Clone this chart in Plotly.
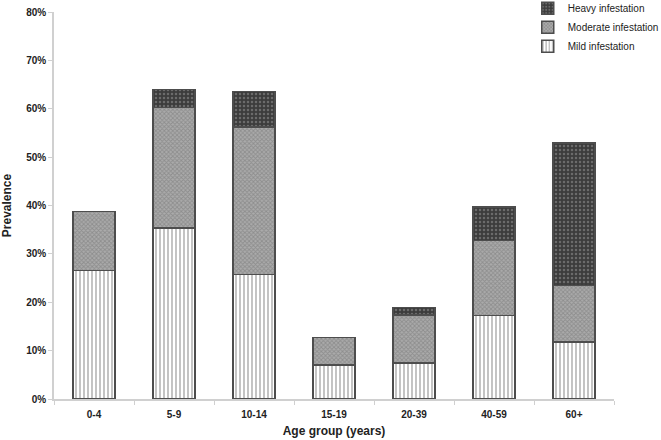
import plotly.graph_objects as go

categories = ["0-4", "5-9", "10-14", "15-19", "20-39", "40-59", "60+"]
mild = [26.6, 35.3, 25.7, 7.0, 7.4, 17.3, 11.8]
moderate_top = [38.8, 60.3, 56.2, 12.7, 17.4, 32.8, 23.5]
heavy_top = [38.8, 64.0, 63.6, 12.7, 18.9, 39.7, 52.9]

moderate = [round(t - m, 2) for t, m in zip(moderate_top, mild)]
heavy = [round(h - t, 2) for h, t in zip(heavy_top, moderate_top)]

outline = dict(color="#4d4d4d", width=1.5)

fig = go.Figure()
fig.add_trace(go.Bar(
    name="Mild infestation", x=categories, y=mild, width=0.53,
    marker=dict(color="white", line=outline,
                pattern=dict(shape="|", fgcolor="#555555", bgcolor="white", size=4, solidity=0.35)),
))
fig.add_trace(go.Bar(
    name="Moderate infestation", x=categories, y=moderate, width=0.53,
    marker=dict(color="#9a9a9a", line=outline,
                pattern=dict(shape="x", fgcolor="#707070", bgcolor="#ababab", size=3, solidity=0.5)),
))
fig.add_trace(go.Bar(
    name="Heavy infestation", x=categories, y=heavy, width=0.53,
    marker=dict(color="#3a3a3a", line=outline,
                pattern=dict(shape=".", fgcolor="#9a9a9a", bgcolor="#3c3c3c", size=4, solidity=0.3)),
))

fig.update_layout(
    barmode="stack",
    width=661, height=440,
    margin=dict(l=54, r=47, t=12, b=41, autoexpand=False),
    plot_bgcolor="white", paper_bgcolor="white",
    font=dict(family="Liberation Sans, Arial, sans-serif", size=11, color="#222222"),
    showlegend=True,
    legend=dict(x=0.846, y=1.047, xanchor="left", yanchor="top",
                traceorder="reversed", bgcolor="rgba(0,0,0,0)",
                font=dict(size=10, color="#222222"), itemwidth=30,
                tracegroupgap=0),
    xaxis=dict(
        title=dict(text="Age group (years)", font=dict(size=12, weight="bold"), standoff=8),
        tickfont=dict(size=10, weight="bold"), ticklabelstandoff=5,
        showline=True, linecolor="#d0d0d0", linewidth=2,
        ticks="outside", tickson="boundaries", ticklen=4, tickcolor="#d0d0d0",
        showgrid=False, automargin=False,
    ),
    yaxis=dict(
        title=dict(text="Prevalence", font=dict(size=12, weight="bold"), standoff=14),
        range=[0, 80], dtick=10, ticksuffix="%",
        tickfont=dict(size=10, weight="bold"),
        showline=True, linecolor="#d0d0d0", linewidth=1.5,
        ticks="outside", ticklen=4, tickcolor="#d0d0d0",
        showgrid=False, zeroline=False, automargin=False,
    ),
)

fig.write_html("out.html", config={"displayModeBar": False},
               post_script="document.body.style.margin='0';")
